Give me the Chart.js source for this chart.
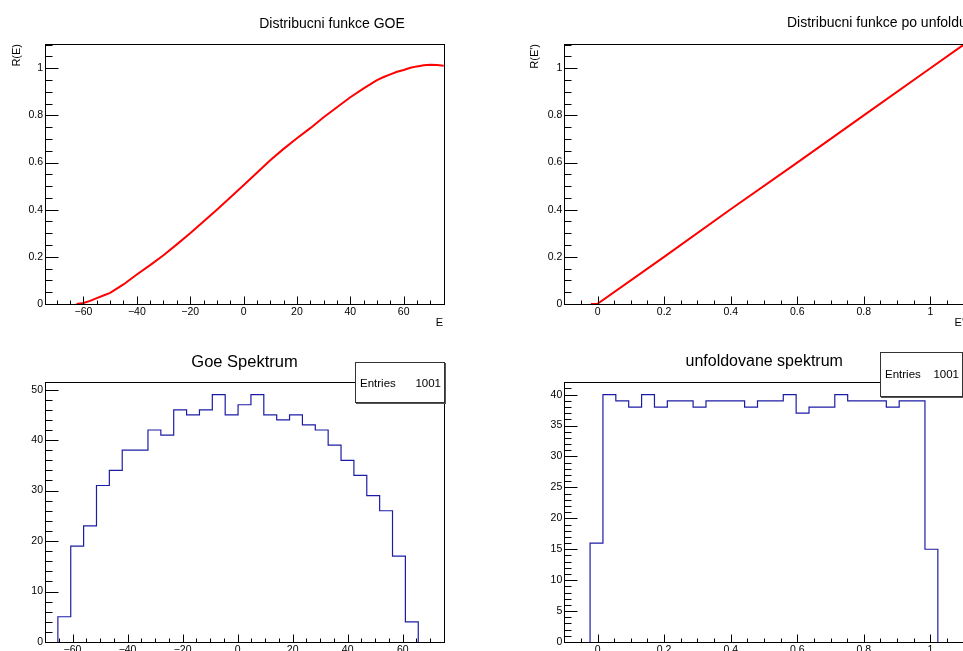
<!DOCTYPE html>
<html>
<head>
<meta charset="utf-8">
<script src="https://cdn.jsdelivr.net/npm/chart.js@4.4.0/dist/chart.umd.min.js"></script>
<style>
html, body { margin: 0; padding: 0; background: #fff; overflow: hidden; width: 963px; height: 651px; }
canvas { position: absolute; }
</style>
</head>
<body>
<canvas id="cdfGoe" style="left:0;top:0" width="481" height="330"></canvas>
<canvas id="cdfUnf" style="left:480px;top:0" width="500" height="330"></canvas>
<canvas id="histGoe" style="left:0;top:330px" width="481" height="340"></canvas>
<canvas id="histUnf" style="left:480px;top:330px" width="500" height="340"></canvas>
<script>
// distribucni funkce GOE
const goeE = [-62.6, -60, -57.5, -55, -52.5, -50, -47.5, -45, -40, -35, -30, -25, -20, -15, -10, -5, 0, 5, 10, 15, 20, 25, 30, 35, 40, 45, 50, 52.5, 55, 57.5, 60, 62.5, 65, 67.5, 70, 72.5, 75];
const goeR = [0, 0.004, 0.013, 0.025, 0.036, 0.047, 0.065, 0.083, 0.125, 0.165, 0.207, 0.253, 0.300, 0.350, 0.400, 0.452, 0.504, 0.557, 0.610, 0.658, 0.703, 0.746, 0.792, 0.835, 0.877, 0.915, 0.950, 0.963, 0.974, 0.985, 0.993, 1.002, 1.008, 1.013, 1.015, 1.014, 1.011];

// distribucni funkce po unfoldu
const unfE = [-0.02, 0, 0.2, 0.4, 0.6, 0.8, 1.0, 1.1];
const unfR = [0, 0.001, 0.2, 0.402, 0.6, 0.8, 1.0, 1.1];

// histogram counts, 31 bins each
const goeRange = [-70, 75];
const goeCounts = [0, 5, 19, 23, 31, 34, 38, 38, 42, 41, 46, 45, 46, 49, 45, 47, 49, 45, 44, 45, 43, 42, 39, 36, 33, 29, 26, 17, 4, 0, 0];
const unfRange = [-0.1, 1.1];
const unfCounts = [0, 0, 16, 40, 39, 38, 40, 38, 39, 39, 38, 39, 39, 39, 38, 39, 39, 40, 37, 38, 38, 40, 39, 39, 39, 38, 39, 39, 15, 0, 0];

// tick labels
const goeXTicks = [-60, -40, -20, 0, 20, 40, 60];
const unfXTicks = [0, 0.2, 0.4, 0.6, 0.8, 1];
const cdfYTicks = [0, 0.2, 0.4, 0.6, 0.8, 1];
const goeYTicks = [0, 10, 20, 30, 40, 50];
const unfYTicks = [0, 5, 10, 15, 20, 25, 30, 35, 40];

const FONT = "'Liberation Sans', Arial, Helvetica, sans-serif";

function fmt(v) {
    return String(Math.round(v * 1000) / 1000).replace('-', '\u2212');
}

function toPoints(xs, ys) {
    return xs.map((x, i) => ({ x: x, y: ys[i] }));
}

// outline of a histogram as corner points
function histPoints(counts, range) {
    const w = (range[1] - range[0]) / counts.length;
    const first = counts.findIndex(c => c > 0);
    let last = counts.length - 1;
    while (counts[last] === 0) last--;
    const pts = [{ x: range[0] + first * w, y: 0 }];
    for (let k = first; k <= last; k++) {
        pts.push({ x: range[0] + k * w, y: counts[k] });
        pts.push({ x: range[0] + (k + 1) * w, y: counts[k] });
    }
    pts.push({ x: range[0] + (last + 1) * w, y: 0 });
    return pts;
}

function makeDecor(o) {
    return {
        id: 'decor',
        afterDraw(chart) {
            const { ctx, chartArea: a, scales: { x, y } } = chart;
            const L = Math.round(a.left) + 0.5, T = Math.round(a.top) + 0.5;
            const R = Math.round(a.right) + 0.5, B = Math.round(a.bottom) + 0.5;
            ctx.save();
            ctx.strokeStyle = '#000';
            ctx.lineWidth = 1;
            ctx.strokeRect(L, T, R - L, B - T);

            ctx.beginPath();
            // y ticks (inside, from the left axis)
            for (let i = Math.ceil(y.min / o.yMinor - 1e-6); i * o.yMinor <= y.max + 1e-9; i++) {
                const py = Math.round(y.getPixelForValue(i * o.yMinor)) + 0.5;
                ctx.moveTo(L, py); ctx.lineTo(L + 7, py);
            }
            o.yTicks.forEach(v => {
                const py = Math.round(y.getPixelForValue(v)) + 0.5;
                ctx.moveTo(L, py); ctx.lineTo(L + 13, py);
            });
            // x ticks (inside, up from the bottom axis)
            for (let i = Math.ceil(x.min / o.xMinor - 1e-6); i * o.xMinor <= x.max + 1e-9; i++) {
                const px = Math.round(x.getPixelForValue(i * o.xMinor)) + 0.5;
                ctx.moveTo(px, B); ctx.lineTo(px, B - 4);
            }
            o.xTicks.forEach(v => {
                const px = Math.round(x.getPixelForValue(v)) + 0.5;
                ctx.moveTo(px, B); ctx.lineTo(px, B - 8);
            });
            ctx.stroke();

            ctx.fillStyle = '#000';
            // panel title
            const t = o.title;
            ctx.font = t.size + 'px ' + FONT;
            ctx.textAlign = t.align;
            ctx.textBaseline = 'alphabetic';
            ctx.fillText(t.text, t.x, t.y);

            // axis titles
            ctx.font = '11px ' + FONT;
            if (o.xTitle) {
                ctx.textAlign = 'right';
                ctx.fillText(o.xTitle.text, o.xTitle.x, o.xTitle.y);
            }
            if (o.yTitle) {
                ctx.save();
                ctx.translate(o.yTitle.x, o.yTitle.y);
                ctx.rotate(-Math.PI / 2);
                ctx.textAlign = 'right';
                ctx.textBaseline = 'middle';
                ctx.fillText(o.yTitle.text, 0, 0);
                ctx.restore();
            }

            // stats box
            if (o.box) {
                const b = o.box;
                ctx.fillStyle = '#fff';
                ctx.fillRect(b.x, b.y, b.w, b.h);
                ctx.strokeStyle = '#333';
                ctx.strokeRect(b.x + 0.5, b.y + 0.5, b.w, b.h);
                ctx.fillStyle = '#555';
                ctx.fillRect(b.x + 1, b.y + b.h + 1, b.w + 1, 1);
                ctx.fillRect(b.x + b.w + 1, b.y + 1, 1, b.h);
                ctx.fillStyle = '#000';
                ctx.font = '11.5px ' + FONT;
                ctx.textAlign = 'left';
                ctx.fillText('Entries', b.x + 5, b.base);
                ctx.textAlign = 'right';
                ctx.fillText(String(b.entries), b.x + b.w - 3, b.base);
            }
            ctx.restore();
        }
    };
}

function makeChart(id, o) {
    const canvas = document.getElementById(id);
    const W = canvas.width, H = canvas.height;
    const tickFont = { family: FONT, size: 10.5 };
    const grid = { display: false, drawTicks: false, tickLength: 0 };
    return new Chart(canvas, {
        type: 'line',
        data: { datasets: o.datasets },
        options: {
            responsive: false,
            animation: false,
            devicePixelRatio: 1,
            layout: { padding: { left: 0, top: o.frame.top, right: W - o.frame.right, bottom: 0 } },
            plugins: { legend: { display: false }, tooltip: { enabled: false } },
            elements: { point: { radius: 0 }, line: { tension: 0 } },
            scales: {
                x: {
                    type: 'linear', min: o.xMin, max: o.xMax,
                    grid: grid, border: { display: false },
                    ticks: { color: '#000', font: tickFont, padding: 2, maxRotation: 0, autoSkip: false, callback: v => fmt(v) },
                    afterBuildTicks: s => { s.ticks = o.xTicks.map(v => ({ value: v })); },
                    afterFit: s => { s.height = H - o.frame.bottom; }
                },
                y: {
                    type: 'linear', min: o.yMin, max: o.yMax,
                    grid: grid, border: { display: false },
                    ticks: { color: '#000', font: tickFont, padding: 2, autoSkip: false, callback: v => fmt(v) },
                    afterBuildTicks: s => { s.ticks = o.yTicks.map(v => ({ value: v })); },
                    afterFit: s => { s.width = o.frame.left; }
                }
            }
        },
        plugins: [makeDecor(o)]
    });
}

const sum = arr => arr.reduce((s, v) => s + v, 0);

window.onload = function () {
    makeChart('cdfGoe', {
        frame: { left: 45, top: 44, right: 444, bottom: 304 },
        xMin: -74.4, xMax: 75.1, yMin: 0, yMax: 1.103,
        xTicks: goeXTicks, yTicks: cdfYTicks, xMinor: 5, yMinor: 0.05,
        datasets: [{ data: toPoints(goeE, goeR), borderColor: '#ff0000', borderWidth: 2, fill: false }],
        title: { text: 'Distribucni funkce GOE', x: 332, y: 28, size: 14, align: 'center' },
        xTitle: { text: 'E', x: 443, y: 326 },
        yTitle: { text: 'R(E)', x: 17, y: 44 }
    });

    makeChart('cdfUnf', {
        frame: { left: 84.3, top: 44, right: 483.6, bottom: 304 },
        xMin: -0.1, xMax: 1.1, yMin: 0, yMax: 1.103,
        xTicks: unfXTicks, yTicks: cdfYTicks, xMinor: 0.05, yMinor: 0.05,
        datasets: [{ data: toPoints(unfE, unfR), borderColor: '#ff0000', borderWidth: 2, fill: false }],
        title: { text: 'Distribucni funkce po unfoldu', x: 307, y: 27, size: 14, align: 'left' },
        xTitle: { text: "E'", x: 484, y: 326 },
        yTitle: { text: "R(E')", x: 55, y: 44 }
    });

    makeChart('histGoe', {
        frame: { left: 45, top: 52.3, right: 444, bottom: 312 },
        xMin: goeRange[0], xMax: goeRange[1], yMin: 0, yMax: 51.45,
        xTicks: goeXTicks, yTicks: goeYTicks, xMinor: 5, yMinor: 2,
        datasets: [{ data: histPoints(goeCounts, goeRange), borderColor: '#1c1ca6', borderWidth: 1.2, fill: false }],
        title: { text: 'Goe Spektrum', x: 244.5, y: 36.5, size: 16.5, align: 'center' },
        box: { x: 355, y: 32, w: 89, h: 40, base: 56.5, entries: sum(goeCounts) }
    });

    makeChart('histUnf', {
        frame: { left: 84.3, top: 52.3, right: 483.6, bottom: 312 },
        xMin: unfRange[0], xMax: unfRange[1], yMin: 0, yMax: 42,
        xTicks: unfXTicks, yTicks: unfYTicks, xMinor: 0.05, yMinor: 1,
        datasets: [{ data: histPoints(unfCounts, unfRange), borderColor: '#1c1ca6', borderWidth: 1.2, fill: false }],
        title: { text: 'unfoldovane spektrum', x: 284.2, y: 36, size: 16, align: 'center' },
        box: { x: 400, y: 22, w: 82, h: 44, base: 48.3, entries: sum(unfCounts) }
    });
};
</script>
</body>
</html>
